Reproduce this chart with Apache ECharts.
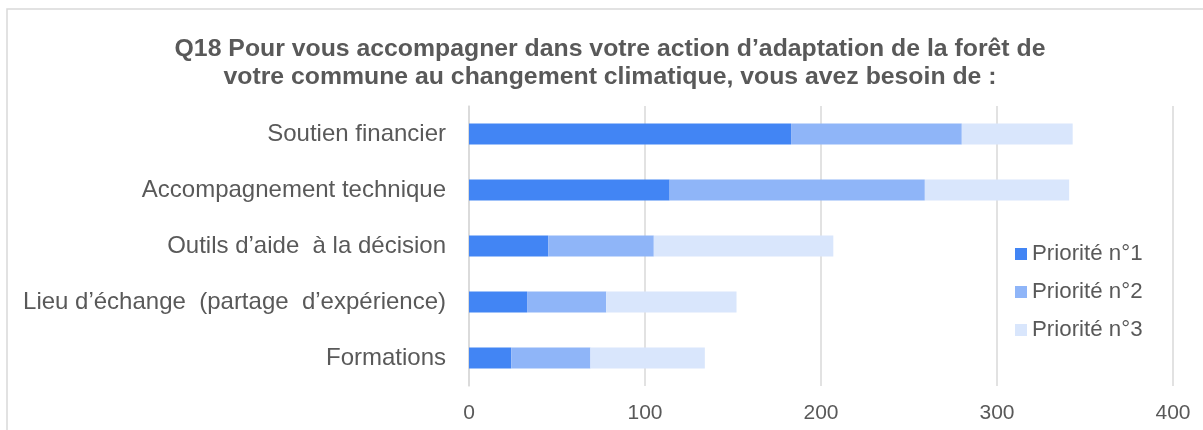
<!DOCTYPE html>
<html>
<head>
<meta charset="utf-8">
<script src="https://cdn.jsdelivr.net/npm/echarts@6/dist/echarts.min.js"></script>
<style>
  html, body { margin: 0; padding: 0; background: #fff; }
  #chart { width: 1203px; height: 430px; }
</style>
</head>
<body>
<div id="chart"></div>
<script>
// categories, top to bottom as shown
const categories = [
  'Soutien financier',
  'Accompagnement technique',
  'Outils d\u2019aide  à la décision',
  'Lieu d\u2019échange  (partage  d\u2019expérience)',
  'Formations'
]
const seriesNames = ['Priorité n°1', 'Priorité n°2', 'Priorité n°3']
const priorite1 = [183, 114, 45, 33, 24]
const priorite2 = [97, 145, 60, 45, 45]
const priorite3 = [63, 82, 102, 74, 65]
const xTicks = [0, 100, 200, 300, 400]

const colors = ['#4285f4', '#8fb5f8', '#d9e6fc']
const textColor = '#595959'
const font = '"Liberation Sans", Arial, sans-serif'

const chart = echarts.init(document.getElementById('chart'))

const mkSeries = (name, data, i) => ({
  name: name,
  type: 'bar',
  stack: 'total',
  barWidth: 21,
  data: data,
  itemStyle: { color: colors[i] },
  emphasis: { disabled: true }
})

chart.setOption({
  animation: false,
  textStyle: { fontFamily: font },
  title: {
    text: 'Q18 Pour vous accompagner dans votre action d\u2019adaptation de la forêt de\nvotre commune au changement climatique, vous avez besoin de :',
    left: 605,
    textAlign: 'center',
    top: 30,
    textStyle: {
      fontFamily: font,
      fontSize: 24.8,
      fontWeight: 'bold',
      color: textColor,
      lineHeight: 28
    }
  },
  graphic: [{
    type: 'rect',
    shape: { x: 7, y: 9, width: 1400, height: 600 },
    style: { fill: 'none', stroke: '#d9d9d9', lineWidth: 1.5 },
    silent: true
  }],
  legend: {
    orient: 'vertical',
    left: 1010,
    top: 238,
    itemWidth: 12,
    itemHeight: 12,
    itemGap: 16,
    icon: 'rect',
    data: seriesNames,
    textStyle: { fontFamily: font, fontSize: 22.3, color: textColor }
  },
  grid: {
    left: 469,
    top: 106,
    width: 704,
    height: 280,
    containLabel: false
  },
  xAxis: {
    type: 'value',
    min: xTicks[0],
    max: xTicks[xTicks.length - 1],
    interval: 100,
    axisLine: { show: false },
    axisTick: { show: false },
    axisLabel: { color: textColor, fontSize: 21, fontFamily: font, margin: 17 },
    splitLine: { lineStyle: { color: '#d9d9d9', width: 1.5 } }
  },
  yAxis: {
    type: 'category',
    inverse: true,
    data: categories,
    axisLine: { show: true, lineStyle: { color: '#d9d9d9', width: 1.5 } },
    axisTick: { show: false },
    axisLabel: { color: textColor, fontSize: 24, fontFamily: font, margin: 23 }
  },
  series: [
    mkSeries(seriesNames[0], priorite1, 0),
    mkSeries(seriesNames[1], priorite2, 1),
    mkSeries(seriesNames[2], priorite3, 2)
  ]
})
</script>
</body>
</html>
